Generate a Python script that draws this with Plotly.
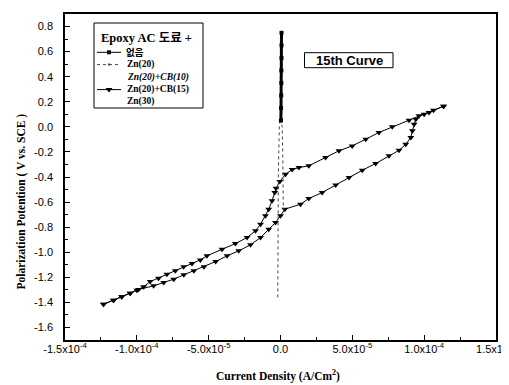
import plotly.graph_objects as go

# ---------------- data ----------------
# Zn(20)+CB(15): forward (lower) branch, current density in A/cm2, potential in V
cb15_fwd_x = [-123.2e-6, -116.2e-6, -110.5e-6, -104.6e-6, -98.8e-6, -88.3e-6, -81.3e-6, -74.3e-6,
              -67.3e-6, -60.3e-6, -53.3e-6, -45.1e-6, -37.2e-6, -29.1e-6, -20.9e-6, -13.9e-6,
              -8.2e-6, -3.5e-6, 0.0, 3.0e-6, 13.9e-6, 19.7e-6, 29.0e-6, 38.4e-6, 47.7e-6, 56.9e-6,
              66.2e-6, 75.5e-6, 82.5e-6, 87.2e-6, 90.7e-6, 91.8e-6, 93.0e-6, 94.2e-6, 96.4e-6,
              103.4e-6, 113.5e-6]
cb15_fwd_y = [-1.415, -1.383, -1.356, -1.327, -1.297, -1.268, -1.241, -1.215,
              -1.180, -1.148, -1.116, -1.074, -1.029, -0.989, -0.941, -0.883,
              -0.817, -0.763, -0.710, -0.657, -0.617, -0.572, -0.524, -0.463, -0.404, -0.346,
              -0.293, -0.231, -0.187, -0.139, -0.085, -0.032, 0.021, 0.061, 0.088,
              0.114, 0.165]
# Zn(20)+CB(15): reverse (upper) branch
cb15_rev_x = [113.5e-6, 106.5e-6, 100.0e-6, 89.5e-6, 77.8e-6, 68.5e-6, 59.3e-6, 49.9e-6, 40.7e-6,
              31.4e-6, 19.7e-6, 12.8e-6, 8.1e-6, 3.5e-6, -0.5e-6, -3.1e-6, -4.0e-6, -5.9e-6,
              -8.2e-6, -10.5e-6, -13.9e-6, -17.4e-6, -23.3e-6, -31.4e-6, -40.7e-6, -51.2e-6,
              -55.8e-6, -61.6e-6, -67.4e-6, -73.2e-6, -79.1e-6, -84.9e-6, -90.7e-6, -95.3e-6,
              -100.0e-6, -104.6e-6, -110.5e-6, -116.2e-6, -123.2e-6]
cb15_rev_y = [0.165, 0.133, 0.100, 0.053, 0.0, -0.045, -0.099, -0.152, -0.191,
              -0.245, -0.311, -0.325, -0.341, -0.378, -0.436, -0.490, -0.524, -0.590,
              -0.657, -0.710, -0.777, -0.829, -0.883, -0.931, -0.976, -1.029,
              -1.061, -1.090, -1.116, -1.148, -1.175, -1.207, -1.234, -1.276,
              -1.303, -1.327, -1.356, -1.383, -1.415]

# Zn(20): dotted near-vertical curve
zn20_x = [-1.9e-6, -1.9e-6, -1.8e-6, -1.7e-6, -1.5e-6, -1.2e-6, -0.8e-6, 0.0, 1.2e-6, 1.6e-6,
          1.7e-6, 1.9e-6, 2.4e-6]
zn20_y = [-1.36, -1.10, -0.85, -0.65, -0.40, -0.20, 0.00, 0.07, 0.00, -0.25,
          -0.45, -0.60, -0.68]

# 없음 (no additive): thick vertical bar
none_x = [0.3e-6, 0.4e-6, 0.5e-6, 0.6e-6, 0.6e-6, 0.7e-6, 0.7e-6, 0.7e-6]
none_y = [0.05, 0.15, 0.25, 0.35, 0.45, 0.55, 0.65, 0.75]

# axis ticks
x_tickvals = [-1.5e-4, -1.0e-4, -5.0e-5, 0.0, 5.0e-5, 1.0e-4, 1.5e-4]
x_ticktext = ["-1.5x10<sup>-4</sup>", "-1.0x10<sup>-4</sup>", "-5.0x10<sup>-5</sup>", "0.0",
              "5.0x10<sup>-5</sup>", "1.0x10<sup>-4</sup>", "1.5x10<sup>-4</sup>"]
y_tickvals = [0.8, 0.6, 0.4, 0.2, 0.0, -0.2, -0.4, -0.6, -0.8, -1.0, -1.2, -1.4, -1.6]
y_ticktext = ["0.8", "0.6", "0.4", "0.2", "0.0", "-0.2", "-0.4", "-0.6", "-0.8", "-1.0",
              "-1.2", "-1.4", "-1.6"]

legend_title = "Epoxy AC 도료 +"
legend_names = ["없음", "Zn(20)", "Zn(20)+CB(10)", "Zn(20)+CB(15)", "Zn(30)"]

# ---------------- figure ----------------
SERIF = "Liberation Serif, Times New Roman, Noto Sans CJK KR, serif"
SANS = "Liberation Sans, Arial, sans-serif"

fig = go.Figure()

fig.add_trace(go.Scatter(x=cb15_fwd_x, y=cb15_fwd_y, mode="lines+markers",
                         line=dict(color="black", width=1),
                         marker=dict(symbol="triangle-down", size=6, color="black"),
                         showlegend=False))
fig.add_trace(go.Scatter(x=cb15_rev_x, y=cb15_rev_y, mode="lines+markers",
                         line=dict(color="black", width=1),
                         marker=dict(symbol="triangle-down", size=6, color="black"),
                         showlegend=False))
fig.add_trace(go.Scatter(x=zn20_x, y=zn20_y, mode="lines",
                         line=dict(color="#444", width=1, dash="dot"),
                         showlegend=False))
fig.add_trace(go.Scatter(x=none_x, y=none_y, mode="lines+markers",
                         line=dict(color="black", width=3),
                         marker=dict(symbol="square", size=4, color="black"),
                         showlegend=False))

# ----- manual legend (plot-area fractions via hidden overlay axes) -----
L = 57; R = 488; T = 6; B = 332
def fx(px): return (px - L) / (R - L)
def fy(py): return (B - py) / (B - T)

entry_py = [44.3, 56.6, 69.2, 81.6, 93.8]
sample_x = [fx(89), fx(113)]
mid_x = [fx(101)]

# 없음 sample
fig.add_trace(go.Scatter(x=sample_x, y=[fy(entry_py[0])] * 2, xaxis="x2", yaxis="y2", mode="lines",
                         line=dict(color="black", width=1), showlegend=False, hoverinfo="skip"))
fig.add_trace(go.Scatter(x=mid_x, y=[fy(entry_py[0])], xaxis="x2", yaxis="y2", mode="markers",
                         marker=dict(symbol="square", size=4, color="black"), showlegend=False, hoverinfo="skip"))
# Zn(20) sample
fig.add_trace(go.Scatter(x=sample_x, y=[fy(entry_py[1])] * 2, xaxis="x2", yaxis="y2", mode="lines",
                         line=dict(color="#444", width=1, dash="dot"), showlegend=False, hoverinfo="skip"))
fig.add_trace(go.Scatter(x=mid_x, y=[fy(entry_py[1])], xaxis="x2", yaxis="y2", mode="markers",
                         marker=dict(symbol="square", size=2, color="#444"), showlegend=False, hoverinfo="skip"))
# Zn(20)+CB(15) sample
fig.add_trace(go.Scatter(x=sample_x, y=[fy(entry_py[3])] * 2, xaxis="x2", yaxis="y2", mode="lines",
                         line=dict(color="black", width=1), showlegend=False, hoverinfo="skip"))
fig.add_trace(go.Scatter(x=mid_x, y=[fy(entry_py[3])], xaxis="x2", yaxis="y2", mode="markers",
                         marker=dict(symbol="triangle-down", size=6, color="black"), showlegend=False, hoverinfo="skip"))

shapes = [
    dict(type="rect", xref="paper", yref="paper", x0=fx(86), x1=fx(195), y0=fy(100), y1=fy(15),
         line=dict(color="black", width=1), fillcolor="rgba(0,0,0,0)"),
    dict(type="rect", xref="paper", yref="paper", x0=fx(296.5), x1=fx(385), y0=fy(59.7), y1=fy(44.7),
         line=dict(color="black", width=1), fillcolor="rgba(0,0,0,0)"),
]

annotations = [
    dict(text="<b>" + legend_title + "</b>", x=fx(91), y=fy(30.3), xref="paper", yref="paper",
         xanchor="left", yanchor="middle", showarrow=False, font=dict(family=SERIF, size=12.5, color="black")),
    dict(text="<b>15th Curve</b>", x=fx(341), y=fy(52.2), xref="paper", yref="paper",
         xanchor="center", yanchor="middle", showarrow=False, font=dict(family=SANS, size=13, color="black")),
    dict(text="<b>Polarization Potention ( V vs. SCE )</b>", x=fx(12.5), y=fy(194), xref="paper", yref="paper",
         xanchor="center", yanchor="middle", textangle=-90, showarrow=False,
         font=dict(family=SERIF, size=11.5, color="black")),
    dict(text="<b>Current Density (A/Cm<sup>2</sup>)</b>", x=fx(270), y=fy(367), xref="paper", yref="paper",
         xanchor="center", yanchor="middle", showarrow=False, font=dict(family=SERIF, size=11.5, color="black")),
]
text_px = [115.5, 117, 117, 117, 117]
for i, name in enumerate(legend_names):
    txt = "<b>" + name + "</b>" if i != 2 else "<b><i>" + name + "</i></b>"
    annotations.append(dict(text=txt, x=fx(text_px[i]), y=fy(entry_py[i]), xref="paper", yref="paper",
                            xanchor="left", yanchor="middle", showarrow=False,
                            font=dict(family=SERIF, size=9.5, color="black")))

fig.update_layout(
    width=509, height=385,
    margin=dict(l=L, r=509 - R, t=T, b=385 - B, autoexpand=False),
    paper_bgcolor="white", plot_bgcolor="white",
    shapes=shapes, annotations=annotations,
    showlegend=False,
    xaxis=dict(range=[-1.5e-4, 1.5e-4], tickmode="array", tickvals=x_tickvals, ticktext=x_ticktext,
               ticks="inside", ticklen=5, tickwidth=1, tickcolor="black",
               minor=dict(tickmode="linear", tick0=0, dtick=2.5e-5, ticks="inside", ticklen=3,
                          tickwidth=1, tickcolor="black", showgrid=False),
               showline=True, linecolor="black", linewidth=1.5, mirror=True,
               showgrid=False, zeroline=False, ticklabeloverflow="allow", automargin=False,
               ticklabelstandoff=-2,
               tickfont=dict(family=SANS, size=11, color="black")),
    yaxis=dict(range=[-1.7, 0.9], tickmode="array", tickvals=y_tickvals, ticktext=y_ticktext,
               ticks="inside", ticklen=5, tickwidth=1, tickcolor="black",
               minor=dict(tickmode="linear", tick0=0, dtick=0.1, ticks="inside", ticklen=3,
                          tickwidth=1, tickcolor="black", showgrid=False),
               showline=True, linecolor="black", linewidth=1.5, mirror=True,
               showgrid=False, zeroline=False, automargin=False, ticklabelstandoff=8,
               tickfont=dict(family=SANS, size=11, color="black")),
    xaxis2=dict(range=[0, 1], overlaying="x", visible=False, fixedrange=True),
    yaxis2=dict(range=[0, 1], overlaying="y", visible=False, fixedrange=True),
)

fig.write_html("out.html")
